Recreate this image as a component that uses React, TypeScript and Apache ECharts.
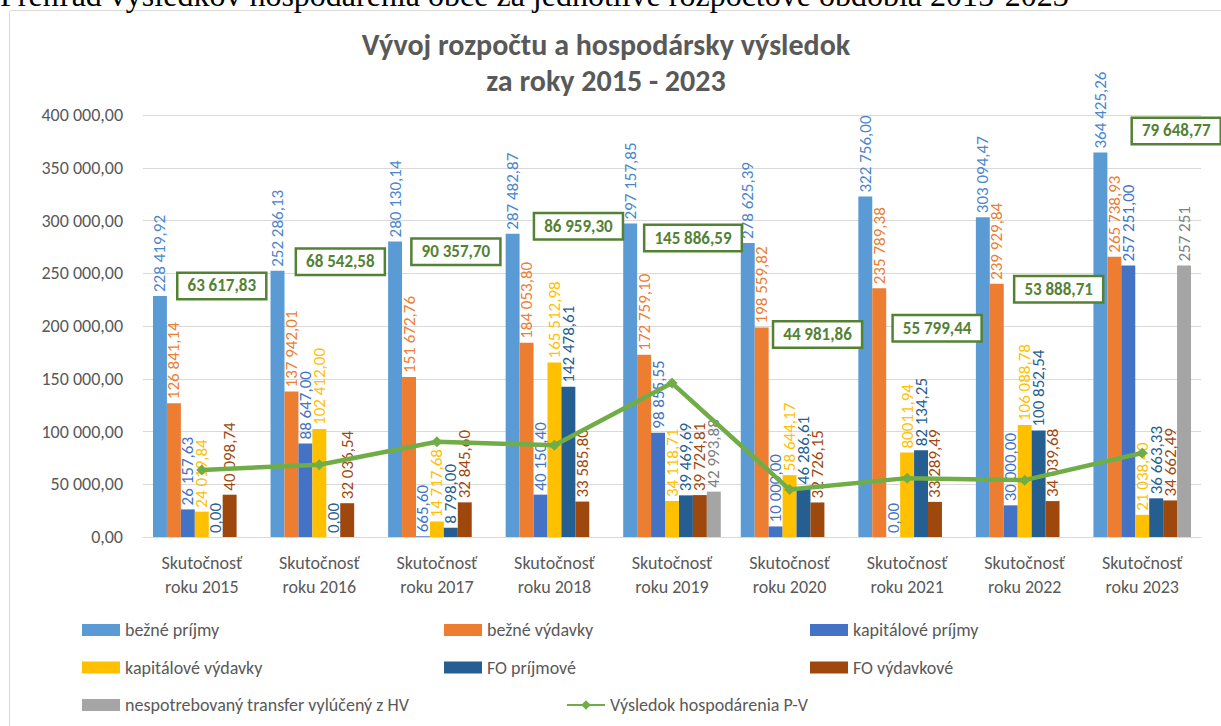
import React, { useEffect, useRef } from "react";
import * as echarts from "echarts";

const categories = [
  "Skutočnosť\nroku 2015",
  "Skutočnosť\nroku 2016",
  "Skutočnosť\nroku 2017",
  "Skutočnosť\nroku 2018",
  "Skutočnosť\nroku 2019",
  "Skutočnosť\nroku 2020",
  "Skutočnosť\nroku 2021",
  "Skutočnosť\nroku 2022",
  "Skutočnosť\nroku 2023",
];

const bezne_prijmy = [228419.92, 252286.13, 280130.14, 287482.87, 297157.85, 278625.39, 322756.0, 303094.47, 364425.26];
const bezne_vydavky = [126841.14, 137942.01, 151672.76, 184053.8, 172759.1, 198559.82, 235789.38, 239929.84, 265738.93];
const kapitalove_prijmy = [26157.63, 88647.0, 665.6, 40150.4, 98855.55, 10000.0, 0.0, 30000.0, 257251.0];
const kapitalove_vydavky = [24019.84, 102412.0, 14717.68, 165512.98, 34118.71, 58644.17, 80011.94, 106088.78, 21038.4];
const fo_prijmove = [0.0, 0.0, 8798.0, 142478.61, 39469.69, 46286.61, 82134.25, 100852.54, 36663.33];
const fo_vydavkove = [40098.74, 32036.54, 32845.6, 33585.8, 39724.81, 32726.15, 33289.49, 34039.68, 34662.49];
const nespotrebovany = [null, null, null, null, 42993.88, null, null, null, 257251];
const vysledok = [63617.83, 68542.58, 90357.7, 86959.3, 145886.59, 44981.86, 55799.44, 53888.71, 79648.77];

const yTicks = { min: 0, max: 400000, interval: 50000 };

// label text as printed in the source where it differs from the standard format
const labelTextOverrides: Record<string, string> = { "3-6": "80011,94" };

// offsets of the result boxes from their points (layout only)
const lineLabelOffsets = [
  [20, -184], [21, -203], [19, -190], [24, -219], [21, -145],
  [28, -155], [30, -150], [34, -191], [34, -322],
];

const FONT = "Carlito, 'Open Sans', 'Noto Sans', sans-serif";

function fmt(v: number, decimals = 2) {
  const s = v.toFixed(decimals);
  const [i, d] = s.split(".");
  const ii = i.replace(/\B(?=(\d{3})+(?!\d))/g, " ");
  return d !== undefined ? ii + "," + d : ii;
}

const barDefs = [
  { name: "bežné príjmy", data: bezne_prijmy, color: "#5B9BD5", label: "#4A86CC" },
  { name: "bežné výdavky", data: bezne_vydavky, color: "#ED7D31", label: "#ED7D31" },
  { name: "kapitálové príjmy", data: kapitalove_prijmy, color: "#4472C4", label: "#4472C4" },
  { name: "kapitálové výdavky", data: kapitalove_vydavky, color: "#FFC000", label: "#FFC000" },
  { name: "FO príjmové", data: fo_prijmove, color: "#255E91", label: "#255E91" },
  { name: "FO výdavkové", data: fo_vydavkove, color: "#9E480E", label: "#9E480E" },
  { name: "nespotrebovaný transfer vylúčený z HV", data: nespotrebovany, color: "#A5A5A5", label: "#808080" },
];

export default function App() {
  const ref = useRef<HTMLDivElement>(null);
  useEffect(() => {
    if (!ref.current) return;
    const chart = echarts.init(ref.current, null, { renderer: "svg" });

    const barSeries = barDefs.map((b, si) => ({
      name: b.name,
      type: "bar",
      data: b.data,
      barGap: "0%",
      barCategoryGap: "17%",
      itemStyle: { color: b.color },
      z: 2,
      label: {
        show: true,
        position: "top",
        rotate: 90,
        align: "left",
        verticalAlign: "middle",
        distance: 4,
        fontSize: 17,
        fontFamily: FONT,
        color: b.label,
        formatter: (p: any) => {
          const key = si + "-" + p.dataIndex;
          if (labelTextOverrides[key]) return labelTextOverrides[key];
          const v = p.value as number;
          if (si === 6 && Number.isInteger(v)) return fmt(v, 0);
          return fmt(v);
        },
      },
    }));

    const legendText = { fontSize: 18, fontFamily: FONT, color: "#595959", lineHeight: 20 };
    const legendBase = {
      orient: "vertical",
      itemWidth: 38,
      itemHeight: 12,
      itemGap: 17.5,
      padding: 0,
      top: 620,
      textStyle: legendText,
      icon: "rect",
    };

    chart.setOption({
      animation: false,
      backgroundColor: "#ffffff",
      title: {
        text: "Vývoj rozpočtu a hospodársky výsledok\nza roky 2015 - 2023",
        left: 601,
        textAlign: "center",
        top: 21,
        textStyle: {
          fontSize: 30,
          fontWeight: "bold",
          fontFamily: FONT,
          color: "#595959",
          lineHeight: 36,
        },
      },
      grid: { left: 143, right: 20, top: 115, bottom: 189, containLabel: false },
      xAxis: {
        type: "category",
        data: categories,
        axisLine: { lineStyle: { color: "#D9D9D9", width: 1 } },
        axisTick: { show: false },
        axisLabel: {
          interval: 0,
          fontSize: 18,
          fontFamily: FONT,
          color: "#595959",
          lineHeight: 24,
          margin: 14,
        },
      },
      yAxis: {
        type: "value",
        min: yTicks.min,
        max: yTicks.max,
        interval: yTicks.interval,
        axisLine: { show: false },
        axisTick: { show: false },
        splitLine: { lineStyle: { color: "#D9D9D9", width: 1 } },
        axisLabel: {
          fontSize: 18,
          fontFamily: FONT,
          color: "#595959",
          margin: 20,
          formatter: (v: number) => fmt(v),
        },
      },
      legend: [
        { ...legendBase, left: 82, data: ["bežné príjmy", "kapitálové výdavky", "nespotrebovaný transfer vylúčený z HV"] },
        { ...legendBase, left: 444, data: ["bežné výdavky", "FO príjmové"] },
        { ...legendBase, left: 810, data: ["kapitálové príjmy", "FO výdavkové"] },
        {
          orient: "horizontal",
          left: 566,
          top: 695,
          padding: 0,
          itemWidth: 38,
          itemHeight: 12,
          textStyle: legendText,
          data: ["Výsledok hospodárenia P-V"],
        },
      ],
      graphic: [
        {
          type: "text",
          left: 0,
          top: -21,
          silent: true,
          style: {
            text: "Prehľad výsledkov hospodárenia obce za jednotlivé rozpočtové obdobia 2015-2023",
            font: "32px 'Liberation Serif', 'Times New Roman', serif",
            fill: "#000000",
          },
        },
        {
          type: "rect",
          shape: { x: 9.5, y: 10.5, width: 1240, height: 740, r: 2 },
          silent: true,
          style: { fill: "#ffffff", stroke: "#D9D9D9", lineWidth: 1 },
          z: -10,
        },
      ],
      series: [
        ...barSeries,
        {
          name: "Výsledok hospodárenia P-V",
          type: "line",
          data: vysledok.map((v, i) => ({
            value: v,
            label: { offset: lineLabelOffsets[i] },
          })),
          z: 5,
          symbol: "diamond",
          symbolSize: 11,
          lineStyle: { color: "#70AD47", width: 4.5 },
          itemStyle: { color: "#70AD47" },
          label: {
            show: true,
            position: "inside",
            formatter: (p: any) => fmt(p.value),
            fontSize: 17,
            fontWeight: "bold",
            fontFamily: FONT,
            color: "#548235",
            backgroundColor: "#ffffff",
            borderColor: "#548235",
            borderWidth: 2.5,
            padding: [4, 9, 3, 9],
          },
        },
      ],
    });

    return () => chart.dispose();
  }, []);

  return (
    <div
      ref={ref}
      style={{ position: "fixed", left: 0, top: 0, width: 1221, height: 726 }}
    />
  );
}
